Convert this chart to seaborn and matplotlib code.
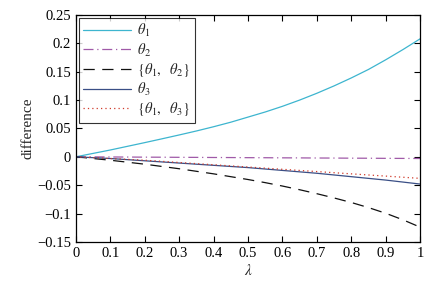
import numpy as np
import pandas as pd
import matplotlib
matplotlib.use("Agg")
import matplotlib.pyplot as plt
import seaborn as sns

lam = [0.0, 0.05, 0.1, 0.15, 0.2, 0.25, 0.3, 0.35, 0.4, 0.45, 0.5,
       0.55, 0.6, 0.65, 0.7, 0.75, 0.8, 0.85, 0.9, 0.95, 1.0]
theta1 = [0.0, 0.006, 0.012, 0.0185, 0.025, 0.0317, 0.0385, 0.0455, 0.053, 0.061, 0.070,
          0.079, 0.089, 0.100, 0.112, 0.125, 0.139, 0.154, 0.171, 0.189, 0.208]
theta2 = [0.0, -0.0001, -0.0003, -0.0004, -0.0006, -0.0007, -0.0009, -0.0010, -0.0012, -0.0013, -0.0015,
          -0.0016, -0.0018, -0.0019, -0.0021, -0.0022, -0.0024, -0.0025, -0.0027, -0.0028, -0.003]
theta12 = [0.0, -0.003, -0.006, -0.0095, -0.013, -0.017, -0.021, -0.0255, -0.030, -0.035, -0.040,
           -0.0455, -0.0515, -0.058, -0.065, -0.0725, -0.0805, -0.0895, -0.0995, -0.111, -0.124]
theta3 = [0.0, -0.0015, -0.003, -0.005, -0.007, -0.009, -0.011, -0.013, -0.015, -0.017, -0.019,
          -0.0215, -0.024, -0.0265, -0.029, -0.032, -0.035, -0.038, -0.041, -0.0445, -0.048]
theta13 = [0.0, -0.0015, -0.003, -0.0045, -0.006, -0.008, -0.010, -0.012, -0.014, -0.016, -0.018,
           -0.020, -0.022, -0.024, -0.026, -0.028, -0.030, -0.032, -0.034, -0.036, -0.038]

labels = [r"$\theta_1$", r"$\theta_2$", r"$\{\theta_1,\ \ \theta_2\}$", r"$\theta_3$", r"$\{\theta_1,\ \ \theta_3\}$"]
xticks = [0, 0.1, 0.2, 0.3, 0.4, 0.5, 0.6, 0.7, 0.8, 0.9, 1]
xticklabels = ["0", "0.1", "0.2", "0.3", "0.4", "0.5", "0.6", "0.7", "0.8", "0.9", "1"]
yticks = [0.25, 0.2, 0.15, 0.1, 0.05, 0, -0.05, -0.1, -0.15]
yticklabels = ["0.25", "0.2", "0.15", "0.1", "0.05", "0", "\u22120.05", "\u22120.1", "\u22120.15"]

sns.set_style("ticks")
plt.rcParams["font.family"] = ["Liberation Serif", "DejaVu Serif"]
plt.rcParams["mathtext.fontset"] = "stix"

fig = plt.figure(figsize=(4.46, 2.88), dpi=100)
ax = fig.add_axes([0.170, 0.160, 0.772, 0.788])

series = [theta1, theta2, theta12, theta3, theta13]
colors = ["#3db5cf", "#a05aa8", "#111111", "#3a4f86", "#d03a2a"]
dashes = [(None, None), (8, 3, 1, 3), (9, 6), (None, None), (1, 2.5)]
for s, lab, c, d in zip(series, labels, colors, dashes):
    df = pd.DataFrame({"lam": lam, "val": s})
    sns.lineplot(data=df, x="lam", y="val", ax=ax, color=c, label=lab, linewidth=0.9)
    ln = ax.lines[-1]
    if d[0] is not None:
        ln.set_dashes(d)

ax.set_xlim(0, 1)
ax.set_ylim(-0.15, 0.25)
ax.set_xticks(xticks)
ax.set_xticklabels(xticklabels)
ax.set_yticks(yticks)
ax.set_yticklabels(yticklabels)
ax.tick_params(direction="in", top=True, right=True, labelsize=10.5, length=4, width=0.8, colors="black")
for sp in ax.spines.values():
    sp.set_visible(True)
    sp.set_linewidth(0.9)
    sp.set_color("black")
ax.set_xlabel(r"$\lambda$", fontsize=11, labelpad=2)
ax.set_ylabel("difference", fontsize=11, labelpad=2)

leg = ax.legend(loc="upper left", frameon=True, fontsize=10.5, handlelength=3.3,
                borderaxespad=0.2, labelspacing=0.15, handletextpad=0.4, borderpad=0.3,
                fancybox=False, edgecolor="black")
leg.get_frame().set_linewidth(0.8)

fig.savefig("out.png", dpi=100)
